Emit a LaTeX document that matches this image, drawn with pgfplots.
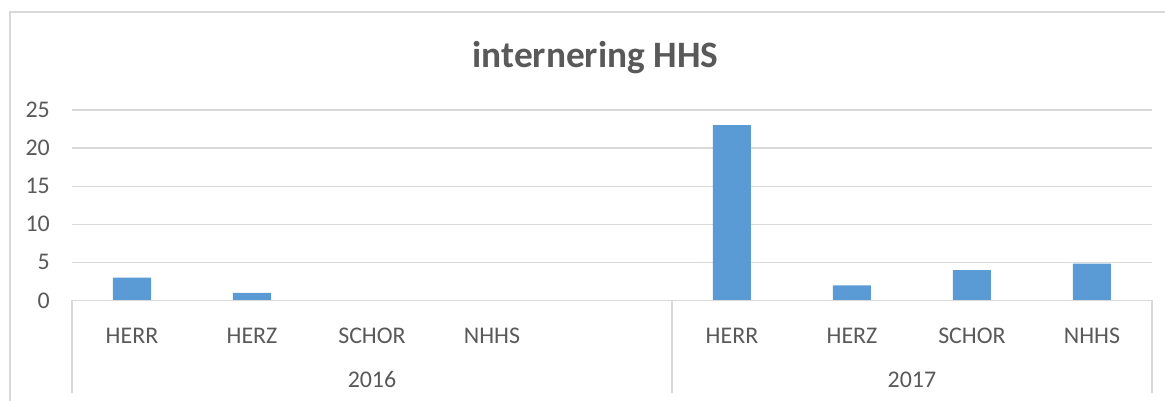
\documentclass[border=0pt]{standalone}
\usepackage{pgfplots}
\pgfplotsset{compat=1.18}
\usepackage{pgfplotstable}
\usepackage{fontspec}
\setmainfont{Carlito}
\definecolor{barblue}{HTML}{5B9BD5}
\definecolor{gridgray}{HTML}{D9D9D9}
\definecolor{txtgray}{HTML}{595959}
\pgfplotstableread{
x y
0.5 3
1.5 1
2.5 0
3.5 0
5.5 23
6.5 2
7.5 4
8.5 4.85
}\datatable
\begin{document}
\begin{tikzpicture}[x=1pt,y=1pt]
\useasboundingbox (0,0) rectangle (1165,401);
\begin{scope}
\clip (0,0) rectangle (1165,401);
\draw[gridgray, line width=1.3pt] (10,-20) -- (10,389) -- (1200,389);
\end{scope}
\node[anchor=base, text=txtgray, inner sep=0pt, font=\fontsize{37.3}{40}\selectfont\bfseries] at (595.5,333) {internering HHS};
\begin{axis}[
 at={(72pt,100.5pt)}, anchor=south west,
 scale only axis, width=1080pt, height=190.5pt,
 xmin=0, xmax=9, ymin=0, ymax=25,
 ytick={0,5,...,25},
 xtick={0.5,1.5,...,8.5},
 xticklabels={HERR,HERZ,SCHOR,NHHS,,HERR,HERZ,SCHOR,NHHS},
 major tick length=0pt,
 axis line style={draw=none},
 ymajorgrids, grid style={gridgray, line width=1.3pt},
 tick label style={font=\fontsize{23.9}{28}\selectfont, text=txtgray},
 /pgf/number format/assume math mode=true,
 yticklabel style={anchor=east, inner sep=0pt, xshift=-22pt},
 xticklabel style={anchor=base, inner sep=0pt, yshift=-43pt},
 clip=false,
]
\addplot[ybar, bar width=0.317, fill=barblue, draw=none] table[x=x,y=y]{\datatable};
\draw[gridgray, line width=1.3pt] (axis cs:0,0) -- (axis cs:9,0);
\draw[gridgray, line width=1.3pt] (axis cs:0,0) -- ++(0,-93pt);
\draw[gridgray, line width=1.3pt] (axis cs:5,0) -- ++(0,-93pt);
\draw[gridgray, line width=1.3pt] (axis cs:9,0) -- ++(0,-93pt);
\node[anchor=base, inner sep=0pt, text=txtgray, font=\fontsize{23.9}{28}\selectfont, yshift=-87pt] at (axis cs:2.5,0) {2016};
\node[anchor=base, inner sep=0pt, text=txtgray, font=\fontsize{23.9}{28}\selectfont, yshift=-87pt] at (axis cs:7,0) {2017};
\end{axis}
\end{tikzpicture}
\end{document}
